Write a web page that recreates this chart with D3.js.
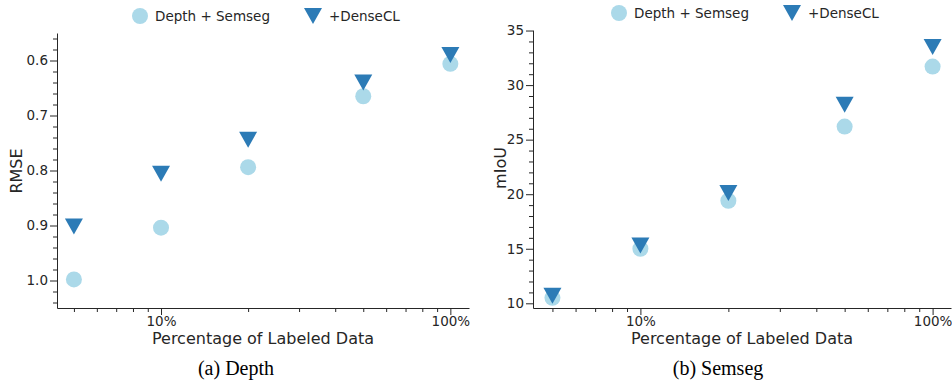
<!DOCTYPE html>
<meta charset="utf-8">
<style>
	body { margin: 0; background: #fff; }
	svg { font-family: "DejaVu Sans", sans-serif; }
	.axis path, .axis line { stroke: #262626; }
	.caption { font-family: "Liberation Serif", "Times New Roman", serif; font-size: 20px; fill: #000; }
</style>
<script src="https://d3js.org/d3.v7.min.js"></script>
<svg width="952" height="385" class="chart"></svg>
<script>
	// percentage of labeled data
	var pct = [5, 10, 20, 50, 100];

	// depth RMSE
	var depthBase = [0.998, 0.904, 0.794, 0.665, 0.606];
	var depthDense = [0.902, 0.806, 0.744, 0.640, 0.590];

	// semseg mIoU
	var segBase = [10.5, 15.0, 19.4, 26.2, 31.7];
	var segDense = [10.7, 15.3, 20.1, 28.2, 33.5];

	var xMajor = [10, 100];
	var xMinor = [5, 6, 7, 8, 9, 20, 30, 40, 50, 60, 70, 80, 90];

	var depthMajor = [0.6, 0.7, 0.8, 0.9, 1.0];
	var segMajor = [10, 15, 20, 25, 30, 35];

	var seriesNames = ["Depth + Semseg", "+DenseCL"];
	var lightBlue = "#abd9e9", darkBlue = "#2c7bb6";

	var svg = d3.select(".chart");

	function triangle(cx, cy) {
		return "M" + (cx - 9) + "," + (cy - 8) + "L" + (cx + 9) + "," + (cy - 8) + "L" + cx + "," + (cy + 8) + "Z";
	}

	function styleAxis(sel) {
		sel.attr("font-family", "DejaVu Sans, sans-serif").attr("font-size", 13.5);
		sel.selectAll("text").attr("fill", "#262626");
	}

	function drawPanel(p) {
		var x = d3.scaleLog().domain(p.xDomain).range([p.left, p.right]);
		var y = d3.scaleLinear().domain(p.yDomain).range(p.yRange);
		var g = svg.append("g");

		// minor x ticks
		g.append("g")
			.attr("class", "axis")
			.attr("transform", "translate(0," + p.bottom + ")")
			.call(d3.axisBottom(x).tickValues(xMinor).tickSize(4).tickFormat(""))
			.select(".domain").remove();
		g.append("g")
			.attr("class", "axis")
			.attr("transform", "translate(0," + p.bottom + ")")
			.call(d3.axisBottom(x).tickValues(xMajor).tickSize(7).tickPadding(1).tickSizeOuter(0)
				.tickFormat(function(d) { return d + "%"; }))
			.call(styleAxis);

		// minor y ticks
		g.append("g")
			.attr("class", "axis")
			.attr("transform", "translate(" + p.left + ",0)")
			.call(d3.axisLeft(y).tickValues(p.yMinor).tickSize(4).tickFormat(""))
			.select(".domain").remove();
		g.append("g")
			.attr("class", "axis")
			.attr("transform", "translate(" + p.left + ",0)")
			.call(d3.axisLeft(y).tickValues(p.yMajor).tickSize(7).tickPadding(2).tickSizeOuter(0)
				.tickFormat(p.fmt))
			.call(styleAxis);

		g.append("text")
			.attr("x", (p.left + p.right) / 2)
			.attr("y", 343.5)
			.attr("text-anchor", "middle")
			.attr("font-size", 16)
			.attr("fill", "#262626")
			.text("Percentage of Labeled Data");

		g.append("text")
			.attr("transform", "translate(" + p.yLabelX + "," + p.yLabelY + ") rotate(-90)")
			.attr("text-anchor", "middle")
			.attr("font-size", 16)
			.attr("fill", "#262626")
			.text(p.yLabel);

		g.selectAll(".base")
			.data(p.base)
			.enter().append("circle")
				.attr("class", "base")
				.attr("cx", function(d, i) { return x(pct[i]); })
				.attr("cy", function(d) { return y(d); })
				.attr("r", 8)
				.attr("fill", lightBlue);

		g.selectAll(".dense")
			.data(p.dense)
			.enter().append("path")
				.attr("class", "dense")
				.attr("d", function(d, i) { return triangle(x(pct[i]), y(d)); })
				.attr("fill", darkBlue);

		// legend
		var lg = g.append("g").attr("transform", "translate(" + p.legendX + "," + p.legendY + ")");
		lg.append("circle").attr("cx", 0).attr("cy", 0).attr("r", 8).attr("fill", lightBlue);
		lg.append("text").attr("x", 15).attr("y", 5).attr("font-size", 13.5).attr("fill", "#262626").text(seriesNames[0]);
		lg.append("path").attr("d", triangle(173, 0)).attr("fill", darkBlue);
		lg.append("text").attr("x", 189).attr("y", 5).attr("font-size", 13.5).attr("fill", "#262626").text(seriesNames[1]);

		g.append("text")
			.attr("class", "caption")
			.attr("x", p.captionX)
			.attr("y", 375)
			.attr("text-anchor", "middle")
			.text(p.caption);
	}

	drawPanel({
		left: 57, right: 469, bottom: 308,
		xDomain: [4.37, 116],
		yDomain: [0.55, 1.05], yRange: [33, 308],
		yMajor: depthMajor,
		yMinor: d3.range(28, 53).map(function(k) { return k / 50; }).filter(function(v) { return Math.round(v * 50) % 5 !== 0; }),
		fmt: d3.format(".1f"),
		yLabel: "RMSE", yLabelX: 22, yLabelY: 171,
		base: depthBase, dense: depthDense,
		legendX: 140, legendY: 16,
		caption: "(a) Depth", captionX: 236
	});

	drawPanel({
		left: 533, right: 951, bottom: 308,
		xDomain: [4.29, 115.6],
		yDomain: [9.57, 35.05], yRange: [308, 30],
		yMajor: segMajor,
		yMinor: d3.range(10, 36).filter(function(v) { return v % 5 !== 0; }),
		fmt: d3.format("d"),
		yLabel: "mIoU", yLabelX: 506, yLabelY: 168,
		base: segBase, dense: segDense,
		legendX: 619, legendY: 13,
		caption: "(b) Semseg", captionX: 718
	});
</script>
